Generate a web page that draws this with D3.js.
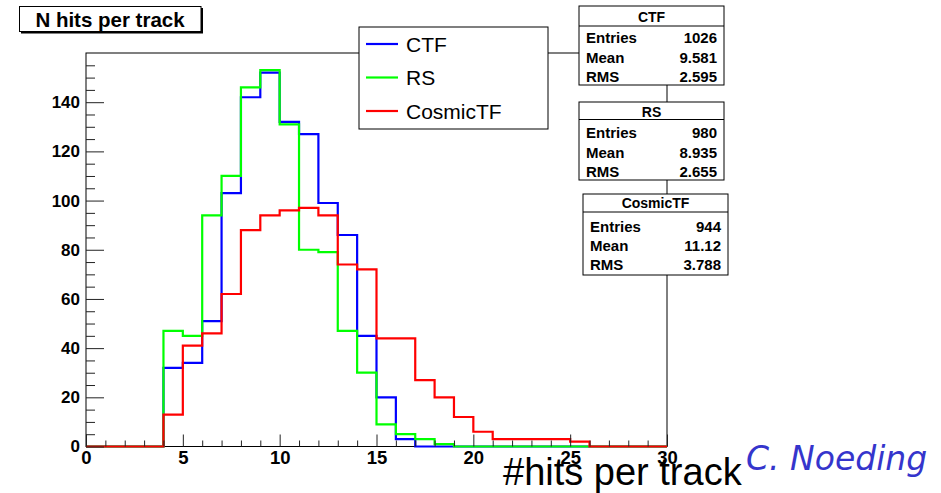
<!DOCTYPE html>
<html>
<head>
<meta charset="utf-8">
<script src="https://cdn.jsdelivr.net/npm/d3@7"></script>
<style>
  html, body { margin: 0; padding: 0; background: #fff; }
  svg { display: block; }
  text { font-family: "Liberation Sans", Arial, Helvetica, sans-serif; }
</style>
</head>
<body>
<svg id="chart" width="941" height="493"></svg>
<script>
// Histogram range: 30 unit-wide bins from 0 to 30 hits
const xDomain = [0, 30];
const yDomain = [0, 160];

// Per-bin track counts for each tracking algorithm
const ctfCounts = [0,0,0,0,32,34,51,103,142,152,132,127,99,86,45,20,3,0,0,0,0,0,0,0,0,0,0,0,0,0];
const rsCounts = [0,0,0,0,47,45,94,110,146,153,131,80,79,47,30,9,5,3,1,0,0,0,0,0,0,0,0,0,0,0];
const cosmicCounts = [0,0,0,0,13,41,46,62,88,94,96,97,94,74,72,44,44,27,20,12,6,3,3,3,3,2,0,0,0,0];

const seriesNames = ["CTF", "RS", "CosmicTF"];
const statEntries = ["1026", "980", "944"];
const statMeans = ["9.581", "8.935", "11.12"];
const statRms = ["2.595", "2.655", "3.788"];

const xMajorTicks = [0, 5, 10, 15, 20, 25, 30];
const yMajorTicks = [0, 20, 40, 60, 80, 100, 120, 140];

const titleText = "N hits per track";
const xTitle = "#hits per track";
const authorText = "C. Noeding";

// Styling
const colors = { CTF: "#0000ff", RS: "#00ff00", CosmicTF: "#ff0000" };
const frame = { left: 86, right: 667, top: 53, bottom: 446.5 };

const svg = d3.select("#chart");

const x = d3.scaleLinear().domain(xDomain).range([frame.left, frame.right]);
const y = d3.scaleLinear().domain(yDomain).range([frame.bottom, frame.top]);

// Plot frame
svg.append("rect")
  .attr("x", frame.left).attr("y", frame.top)
  .attr("width", frame.right - frame.left).attr("height", frame.bottom - frame.top)
  .attr("fill", "#fff").attr("stroke", "#000").attr("stroke-width", 1);

// Step outline of a histogram
function stepPath(counts) {
  const p = d3.path();
  p.moveTo(x(0), y(counts[0]));
  counts.forEach((c, i) => {
    if (i > 0) p.lineTo(x(i), y(c));
    p.lineTo(x(i + 1), y(c));
  });
  return p.toString();
}

const series = [
  { name: "CTF", counts: ctfCounts },
  { name: "RS", counts: rsCounts },
  { name: "CosmicTF", counts: cosmicCounts }
];

svg.append("g").selectAll("path")
  .data(series)
  .join("path")
  .attr("d", d => stepPath(d.counts))
  .attr("fill", "none")
  .attr("stroke", d => colors[d.name])
  .attr("stroke-width", 2.2)
  .attr("stroke-linejoin", "miter");

// Axes with ticks pointing into the frame
const minorX = d3.range(xDomain[0], xDomain[1] + 1).filter(v => v % 5 !== 0);
const minorY = d3.range(0, yDomain[1], 5).filter(v => v % 20 !== 0);

const xMinor = svg.append("g")
  .attr("transform", `translate(0,${frame.bottom})`)
  .call(d3.axisBottom(x).tickValues(minorX).tickSizeInner(-6).tickSizeOuter(0).tickFormat(""));
const xMajor = svg.append("g")
  .attr("transform", `translate(0,${frame.bottom})`)
  .call(d3.axisBottom(x).tickValues(xMajorTicks).tickSizeInner(-12).tickSizeOuter(0).tickPadding(4).tickFormat(d3.format("d")));
const yMinor = svg.append("g")
  .attr("transform", `translate(${frame.left},0)`)
  .call(d3.axisLeft(y).tickValues(minorY).tickSizeInner(-9).tickSizeOuter(0).tickFormat(""));
const yMajor = svg.append("g")
  .attr("transform", `translate(${frame.left},0)`)
  .call(d3.axisLeft(y).tickValues(yMajorTicks).tickSizeInner(-18).tickSizeOuter(0).tickPadding(6).tickFormat(d3.format("d")));

[xMinor, xMajor, yMinor, yMajor].forEach(g => {
  g.select(".domain").remove();
  g.selectAll(".tick line").attr("stroke", "#222").attr("stroke-width", 1);
  g.selectAll("text")
    .attr("fill", "#000")
    .style("font-family", "'Liberation Sans', Arial, sans-serif")
    .style("font-weight", "bold")
    .style("font-size", "17px");
});
xMajor.selectAll("text").style("font-size", "18.5px");

// Legend
const legend = svg.append("g");
legend.append("rect")
  .attr("x", 359).attr("y", 27).attr("width", 189).attr("height", 102)
  .attr("fill", "#fff").attr("stroke", "#000").attr("stroke-width", 1);
const legendRowY = [44, 77.5, 111];
series.forEach((s, i) => {
  legend.append("line")
    .attr("x1", 366).attr("x2", 398)
    .attr("y1", legendRowY[i]).attr("y2", legendRowY[i])
    .attr("stroke", colors[s.name]).attr("stroke-width", 2.2);
  legend.append("text")
    .attr("x", 406).attr("y", legendRowY[i]).attr("dy", "0.36em")
    .style("font-size", "21px")
    .attr("fill", "#000")
    .text(s.name);
});

// Statistics boxes
const statBoxes = [
  { left: 579, top: 6, sep: 26, bottom: 85, baselines: [42.5, 62.5, 81.5], header: 22 },
  { left: 579, top: 102, sep: 119.5, bottom: 180, baselines: [138, 157.5, 176.5], header: 116.5 },
  { left: 583, top: 194, sep: 212, bottom: 275, baselines: [231.5, 250.5, 269.5], header: 208 }
];
const statWidth = 145;
const statLabels = ["Entries", "Mean", "RMS"];

statBoxes.forEach((b, i) => {
  const g = svg.append("g");
  g.append("rect")
    .attr("x", b.left).attr("y", b.top)
    .attr("width", statWidth).attr("height", b.bottom - b.top)
    .attr("fill", "#fff").attr("stroke", "#000").attr("stroke-width", 1);
  g.append("line")
    .attr("x1", b.left).attr("x2", b.left + statWidth)
    .attr("y1", b.sep).attr("y2", b.sep)
    .attr("stroke", "#000").attr("stroke-width", 1);
  g.append("text")
    .attr("x", b.left + statWidth / 2).attr("y", b.header)
    .attr("text-anchor", "middle")
    .style("font-weight", "bold").style("font-size", "14px")
    .text(seriesNames[i]);
  const vals = [statEntries[i], statMeans[i], statRms[i]];
  statLabels.forEach((lab, j) => {
    g.append("text")
      .attr("x", b.left + 7).attr("y", b.baselines[j])
      .style("font-weight", "bold").style("font-size", "15px")
      .text(lab);
    g.append("text")
      .attr("x", b.left + statWidth - 7).attr("y", b.baselines[j])
      .attr("text-anchor", "end")
      .style("font-weight", "bold").style("font-size", "15px")
      .text(vals[j]);
  });
});

// Title box with a thin drop shadow
const title = svg.append("g");
title.append("rect")
  .attr("x", 21).attr("y", 8).attr("width", 182).attr("height", 25.5)
  .attr("fill", "#000");
title.append("rect")
  .attr("x", 19.5).attr("y", 6.5).attr("width", 181.5).attr("height", 25)
  .attr("fill", "#fff").attr("stroke", "#000").attr("stroke-width", 1);
title.append("text")
  .attr("x", 110).attr("y", 26.5)
  .attr("text-anchor", "middle")
  .style("font-weight", "bold").style("font-size", "20.5px")
  .text(titleText);

// Axis title and author credit
svg.append("text")
  .attr("x", 503).attr("y", 485)
  .style("font-size", "38px")
  .attr("fill", "#000")
  .text(xTitle);

svg.append("text")
  .attr("x", 746).attr("y", 470)
  .style("font-family", "'DejaVu Sans', Verdana, sans-serif")
  .style("font-style", "italic")
  .style("font-size", "33px")
  .attr("fill", "#3535cc")
  .text(authorText);
</script>
</body>
</html>
